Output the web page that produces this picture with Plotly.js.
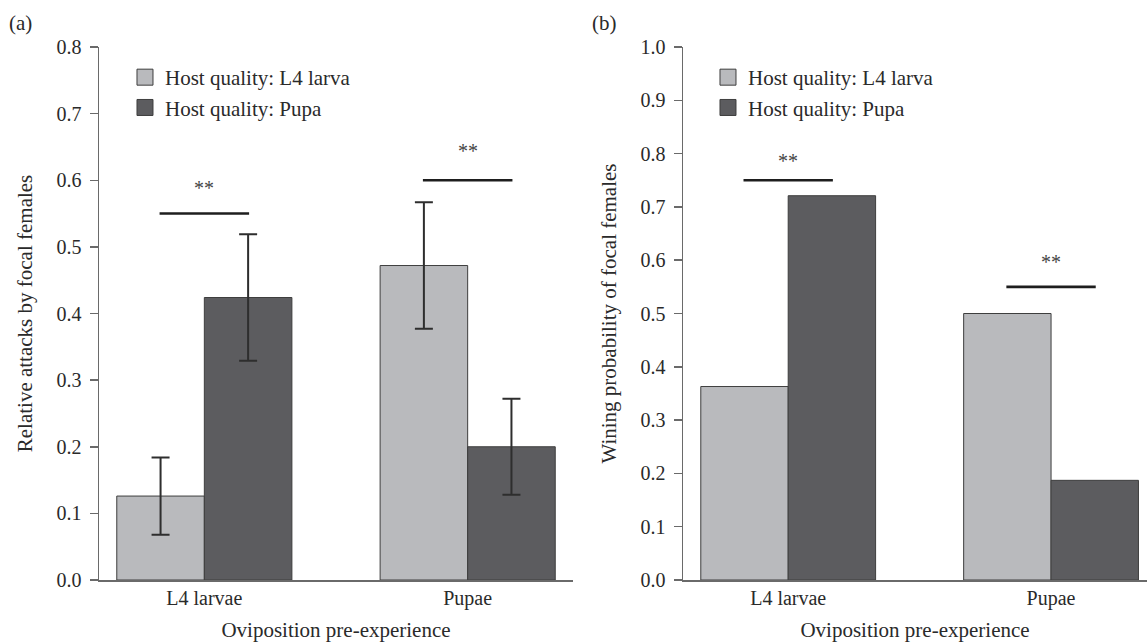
<!DOCTYPE html>
<html>
<head>
<meta charset="utf-8">
<script src="https://cdn.plot.ly/plotly-3.0.1.min.js"></script>
<style>html,body{margin:0;padding:0;background:#fff;}#chart{width:1147px;height:642px;}</style>
</head>
<body>
<div id="chart"></div>
<script>
// ---- data ----
const categories = ["L4 larvae", "Pupae"];
const seriesNames = ["Host quality: L4 larva", "Host quality: Pupa"];

// Panel (a): relative attacks by focal females
const attacksL4 = [0.126, 0.472];
const attacksPupa = [0.424, 0.200];
const attacksErrL4 = [0.058, 0.095];
const attacksErrPupa = [0.095, 0.072];
const sigLevelA = [0.55, 0.60];
const starLevelA = [0.588, 0.644];

// Panel (b): winning probability of focal females
const winL4 = [0.363, 0.500];
const winPupa = [0.721, 0.187];
const sigLevelB = [0.75, 0.55];
const starLevelB = [0.786, 0.597];

const yTicksA = [0, 0.1, 0.2, 0.3, 0.4, 0.5, 0.6, 0.7, 0.8];
const yTicksB = [0, 0.1, 0.2, 0.3, 0.4, 0.5, 0.6, 0.7, 0.8, 0.9, 1.0];

// ---- style ----
const FONT = "Liberation Serif";
const TXT = "#2a2a2a";
const LIGHT = "#b9babd";
const DARK = "#5c5c5f";
const OUTLINE = "#3e3e3e";
const AXIS = "#6a6a6a";

function barTrace(y, name, color, xa, ya, err) {
  const t = {
    type: "bar", x: categories, y: y, name: name,
    xaxis: xa, yaxis: ya, showlegend: false,
    marker: {color: color, line: {color: OUTLINE, width: 1}},
    hoverinfo: "y"
  };
  if (err) {
    t.error_y = {type: "data", array: err, visible: true, color: "#2e2e2e", thickness: 2, width: 9};
  }
  return t;
}
// legend entries (square keys, same colours as the bars)
function legendKey(name, color, xa, ya, legend) {
  return {
    type: "scatter", mode: "markers", x: [null], y: [null], name: name,
    xaxis: xa, yaxis: ya, legend: legend, showlegend: true, hoverinfo: "skip",
    marker: {symbol: "square", size: 16, color: color, line: {color: OUTLINE, width: 1}}
  };
}

const data = [
  barTrace(attacksL4, seriesNames[0], LIGHT, "x", "y", attacksErrL4),
  barTrace(attacksPupa, seriesNames[1], DARK, "x", "y", attacksErrPupa),
  barTrace(winL4, seriesNames[0], LIGHT, "x2", "y2", null),
  barTrace(winPupa, seriesNames[1], DARK, "x2", "y2", null),
  legendKey(seriesNames[0], LIGHT, "x", "y", "legend"),
  legendKey(seriesNames[1], DARK, "x", "y", "legend"),
  legendKey(seriesNames[0], LIGHT, "x2", "y2", "legend2"),
  legendKey(seriesNames[1], DARK, "x2", "y2", "legend2")
];

const shapes = [];
const annotations = [];
function sig(levels, stars, xref, yref) {
  levels.forEach((lv, i) => {
    shapes.push({type: "line", xref: xref, yref: yref, x0: i - 0.17, x1: i + 0.17, y0: lv, y1: lv,
      line: {color: "#1e1e1e", width: 2.6}});
    annotations.push({xref: xref, yref: yref, x: i, y: stars[i], text: "**", showarrow: false,
      font: {family: FONT, size: 20, color: "#444"}, xanchor: "center", yanchor: "middle"});
  });
}
sig(sigLevelA, starLevelA, "x", "y");
sig(sigLevelB, starLevelB, "x2", "y2");

annotations.push({xref: "paper", yref: "paper", x: -0.0878, y: 1.045, text: "(a)", showarrow: false,
  xanchor: "left", yanchor: "middle", font: {family: FONT, size: 21, color: TXT}});
annotations.push({xref: "paper", yref: "paper", x: 0.4685, y: 1.045, text: "(b)", showarrow: false,
  xanchor: "left", yanchor: "middle", font: {family: FONT, size: 21, color: TXT}});

function xAxis(domain, range, anchor) {
  return {
    domain: domain, range: range, anchor: anchor, type: "category",
    showline: true, linecolor: AXIS, linewidth: 1.5, ticks: "", showgrid: false, zeroline: false,
    tickfont: {family: FONT, size: 20, color: TXT}, ticklabelposition: "outside", ticklabelstandoff: -1,
    title: {text: "Oviposition pre-experience", font: {family: FONT, size: 21, color: TXT}, standoff: 14},
    fixedrange: true
  };
}
function yAxis(range, ticks, title, anchor) {
  return {
    range: range, anchor: anchor, tickvals: ticks, ticktext: ticks.map(v => v.toFixed(1)),
    showline: true, linecolor: AXIS, linewidth: 1.5, ticks: "outside", ticklen: 8, tickwidth: 1.5, tickcolor: AXIS,
    showgrid: false, zeroline: false,
    tickfont: {family: FONT, size: 20, color: TXT}, ticklabelstandoff: 4,
    title: {text: title, font: {family: FONT, size: 21, color: TXT}, standoff: 18},
    fixedrange: true
  };
}

const layout = {
  width: 1147, height: 642,
  margin: {l: 99, r: 0, t: 47, b: 62},
  font: {family: FONT, color: TXT},
  paper_bgcolor: "#fff", plot_bgcolor: "#fff",
  barmode: "group", bargap: 0.335, bargroupgap: 0,
  xaxis: xAxis([0, 0.4523], [-0.4, 1.4], "y"),
  yaxis: yAxis([0, 0.8], yTicksA, "Relative attacks by focal females", "x"),
  xaxis2: xAxis([0.5573, 1], [-0.4, 1.365], "y2"),
  yaxis2: yAxis([0, 1.0], yTicksB, "Wining probability of focal females", "x2"),
  legend: {x: 0.0248, y: 0.9812, xanchor: "left", yanchor: "top", bgcolor: "rgba(0,0,0,0)",
    font: {family: FONT, size: 21, color: TXT}, traceorder: "normal", itemclick: false, itemsizing: "trace"},
  legend2: {x: 0.5811, y: 0.9812, xanchor: "left", yanchor: "top", bgcolor: "rgba(0,0,0,0)",
    font: {family: FONT, size: 21, color: TXT}, traceorder: "normal", itemclick: false, itemsizing: "trace"},
  shapes: shapes,
  annotations: annotations,
  showlegend: true
};

Plotly.newPlot("chart", data, layout, {displayModeBar: false, staticPlot: true});
</script>
</body>
</html>
